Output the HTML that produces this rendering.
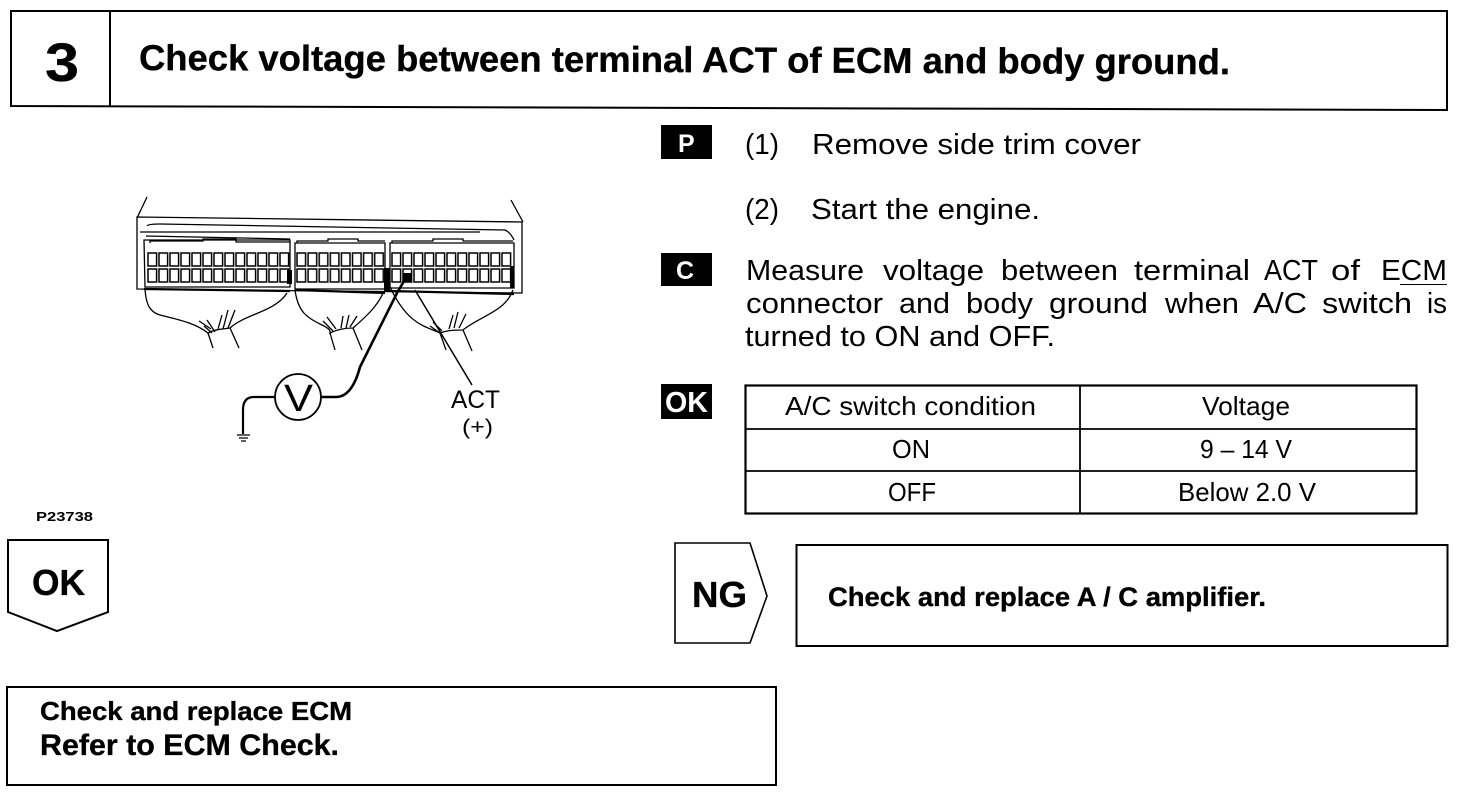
<!DOCTYPE html>
<html><head><meta charset="utf-8"><style>
html,body{margin:0;padding:0;background:#fff;width:1472px;height:794px;overflow:hidden}
svg{display:block}
text{font-family:"Liberation Sans",sans-serif;fill:#000}
.b{font-weight:bold;stroke:#000;stroke-width:.35}
.t{font-size:29px}
.g{fill:none;stroke:#000;stroke-width:1.3}
</style></head><body>
<svg width="1472" height="794" viewBox="0 0 1472 794" xmlns="http://www.w3.org/2000/svg">
<defs>
<pattern id="c1" x="147" y="252" width="11" height="16" patternUnits="userSpaceOnUse"><rect x="1" y="1" width="8.6" height="13" fill="#fff" stroke="#000" stroke-width="1.5"/></pattern>
<pattern id="c2" x="296" y="252" width="11.1" height="16" patternUnits="userSpaceOnUse"><rect x="1" y="1" width="8.6" height="13" fill="#fff" stroke="#000" stroke-width="1.5"/></pattern>
<pattern id="c3" x="391" y="252" width="11" height="16" patternUnits="userSpaceOnUse"><rect x="1" y="1" width="8.6" height="13" fill="#fff" stroke="#000" stroke-width="1.5"/></pattern>
</defs>
<!-- header -->
<path d="M11 11H1447V110L11 106Z" fill="none" stroke="#000" stroke-width="2"/>
<path d="M110 11V106" stroke="#000" stroke-width="2"/>
<text x="45" y="81" class="b" font-size="54" textLength="34" lengthAdjust="spacingAndGlyphs">3</text>
<text x="139" y="70" class="b" font-size="36" textLength="1091" lengthAdjust="spacingAndGlyphs" transform="rotate(0.22 139 70)">Check voltage between terminal ACT of ECM and body ground.</text>

<!-- connector diagram -->
<path d="M147 197L137 218M511 200L523 222" class="g"/>
<path d="M137 217L522 222V293L137 289Z" class="g" stroke-width="1.7"/>
<path d="M147 226Q148 224 160 224L505 230Q510 232 514 240M146 236L290 239M140 232H480" class="g"/>
<path d="M144 240H290V287H145ZM295 243H385V289H295ZM390 243H514V288H390Z" class="g" stroke-width="1.7"/>
<path d="M150 243V241H203V239H236V242H290M297 243V241H328V239H358V241H385M392 243V241H433V239H463V241H513" class="g"/>
<rect x="147" y="252" width="143" height="31" fill="url(#c1)"/>
<rect x="296" y="252" width="89" height="31" fill="url(#c2)"/>
<rect x="391" y="252" width="121" height="31" fill="url(#c3)"/>
<path d="M144 289L290 291M295 290L385 293M390 291L514 294" stroke="#000" stroke-width="2.2"/>
<rect x="287" y="270" width="5" height="14"/><rect x="384" y="268" width="6" height="24"/><rect x="403" y="273" width="8" height="9"/>
<rect x="510" y="266" width="4" height="22"/>
<!-- wires -->
<path d="M145 289C146 305 150 312 160 315C180 320 195 323 208 333C215 329 224 329 230 328C245 314 275 312 287 293" class="g"/>
<path d="M208 333L213 348M230 328L239 348" class="g"/>
<path d="M295 290C298 312 307 318 322 325C328 328 331 330 330 333C338 329 347 328 353 328C368 315 378 305 383 293" class="g"/>
<path d="M330 333L335 350M353 328L362 350" class="g"/>
<path d="M390 287C408 325 425 326 440 333C448 330 456 330 463 330C480 316 505 312 513 290" class="g"/>
<path d="M440 333L446 350M463 330L472 351" class="g"/>
<path d="M204 326L212 333M199 321L211 329M207 320L215 332M218 329L222 315M223 329L228 310M228 328L235 310" class="g"/>
<path d="M323 321L333 331M327 317L336 329M341 328L343 316M346 328L349 315M350 327L357 316" class="g"/>
<path d="M430 326L440 333M433 322L442 331M449 329L453 315M454 328L458 312M459 328L466 314" class="g"/>
<path d="M415 290L472 385" stroke="#000" stroke-width="1.5" fill="none"/>
<path d="M407 276L397 293L360 367Q352 397 336 397H321" fill="none" stroke="#000" stroke-width="2.6"/>
<circle cx="298" cy="397" r="23" fill="#fff" stroke="#000" stroke-width="1.8"/>
<text x="284" y="411" font-size="38" textLength="29" lengthAdjust="spacingAndGlyphs">V</text>
<path d="M275 397H254Q243 397 243 410V434" fill="none" stroke="#000" stroke-width="2.2"/>
<path d="M237 435H250M239 438H248M241 441H246" stroke="#000" stroke-width="1.3"/>
<text x="451" y="408" font-size="25" textLength="49" lengthAdjust="spacingAndGlyphs">ACT</text>
<text x="462" y="434" font-size="21" textLength="31" lengthAdjust="spacingAndGlyphs">(+)</text>
<text x="36" y="521" font-size="13" font-weight="bold" textLength="57" lengthAdjust="spacingAndGlyphs">P23738</text>

<!-- P / C / OK tags -->
<rect x="661" y="125" width="51" height="34"/>
<text x="678" y="152" class="b" font-size="25" style="fill:#fff;stroke:none">P</text>
<rect x="661" y="253" width="51" height="33"/>
<text x="676" y="279" class="b" font-size="25" style="fill:#fff;stroke:none">C</text>
<rect x="661" y="384" width="51" height="35"/>
<text x="665" y="412" class="b" font-size="29" style="fill:#fff;stroke:none" textLength="43" lengthAdjust="spacingAndGlyphs">OK</text>

<!-- right text -->
<g class="t">
<text x="745" y="154" textLength="34" lengthAdjust="spacingAndGlyphs">(1)</text>
<text x="812" y="154" textLength="329" lengthAdjust="spacingAndGlyphs">Remove side trim cover</text>
<text x="745" y="219" textLength="34" lengthAdjust="spacingAndGlyphs">(2)</text>
<text x="811" y="219" textLength="229" lengthAdjust="spacingAndGlyphs">Start the engine.</text>
<text x="746" y="280" textLength="118" lengthAdjust="spacingAndGlyphs">Measure</text>
<text x="883" y="280" textLength="101" lengthAdjust="spacingAndGlyphs">voltage</text>
<text x="1001" y="280" textLength="117" lengthAdjust="spacingAndGlyphs">between</text>
<text x="1134" y="280" textLength="116" lengthAdjust="spacingAndGlyphs">terminal</text>
<text x="1264" y="280" textLength="54" lengthAdjust="spacingAndGlyphs">ACT</text>
<text x="1331" y="280" textLength="29" lengthAdjust="spacingAndGlyphs">of</text>
<text x="1381" y="280" textLength="66" lengthAdjust="spacingAndGlyphs">ECM</text>
<text x="746" y="313" textLength="137" lengthAdjust="spacingAndGlyphs">connector</text>
<text x="899" y="313" textLength="51" lengthAdjust="spacingAndGlyphs">and</text>
<text x="966" y="313" textLength="67" lengthAdjust="spacingAndGlyphs">body</text>
<text x="1049" y="313" textLength="99" lengthAdjust="spacingAndGlyphs">ground</text>
<text x="1165" y="313" textLength="74" lengthAdjust="spacingAndGlyphs">when</text>
<text x="1253" y="313" textLength="54" lengthAdjust="spacingAndGlyphs">A/C</text>
<text x="1322" y="313" textLength="90" lengthAdjust="spacingAndGlyphs">switch</text>
<text x="1427" y="313" textLength="20" lengthAdjust="spacingAndGlyphs">is</text>
<text x="745" y="346" textLength="310" lengthAdjust="spacingAndGlyphs">turned to ON and OFF.</text>
</g>
<rect x="1400" y="284" width="47" height="1"/>

<!-- table -->
<rect x="745.5" y="385.5" width="671" height="128" fill="none" stroke="#000" stroke-width="2.2"/>
<path d="M745 429H1416M745 471H1416M1080 385V513" stroke="#000" stroke-width="1.8"/>
<g font-size="26">
<text x="785" y="415" textLength="251" lengthAdjust="spacingAndGlyphs">A/C switch condition</text>
<text x="1202" y="415" textLength="88" lengthAdjust="spacingAndGlyphs">Voltage</text>
<text x="892" y="458" textLength="38" lengthAdjust="spacingAndGlyphs">ON</text>
<text x="1200" y="458" textLength="92" lengthAdjust="spacingAndGlyphs">9 – 14 V</text>
<text x="888" y="501" textLength="48" lengthAdjust="spacingAndGlyphs">OFF</text>
<text x="1178" y="501" textLength="138" lengthAdjust="spacingAndGlyphs">Below 2.0 V</text>
</g>

<!-- OK arrow -->
<path d="M8 540H108V612L57 631L8 612Z" fill="none" stroke="#000" stroke-width="2"/>
<text x="32" y="595" class="b" font-size="36" textLength="53" lengthAdjust="spacingAndGlyphs">OK</text>

<!-- NG arrow -->
<path d="M675 543H750L767 596L750 643H675Z" fill="none" stroke="#000" stroke-width="1.6"/>
<text x="692" y="607" class="b" font-size="36" textLength="55" lengthAdjust="spacingAndGlyphs">NG</text>

<!-- NG result -->
<rect x="796.5" y="545" width="651" height="101" fill="none" stroke="#000" stroke-width="2"/>
<text x="828" y="606" class="b" font-size="27" textLength="438" lengthAdjust="spacingAndGlyphs">Check and replace A / C amplifier.</text>

<!-- OK result -->
<rect x="7" y="687" width="769" height="98" fill="none" stroke="#000" stroke-width="2"/>
<text x="40" y="720" class="b" font-size="26" textLength="312" lengthAdjust="spacingAndGlyphs">Check and replace ECM</text>
<text x="40" y="755" class="b" font-size="30" textLength="299" lengthAdjust="spacingAndGlyphs">Refer to ECM Check.</text>
</svg>
</body></html>
